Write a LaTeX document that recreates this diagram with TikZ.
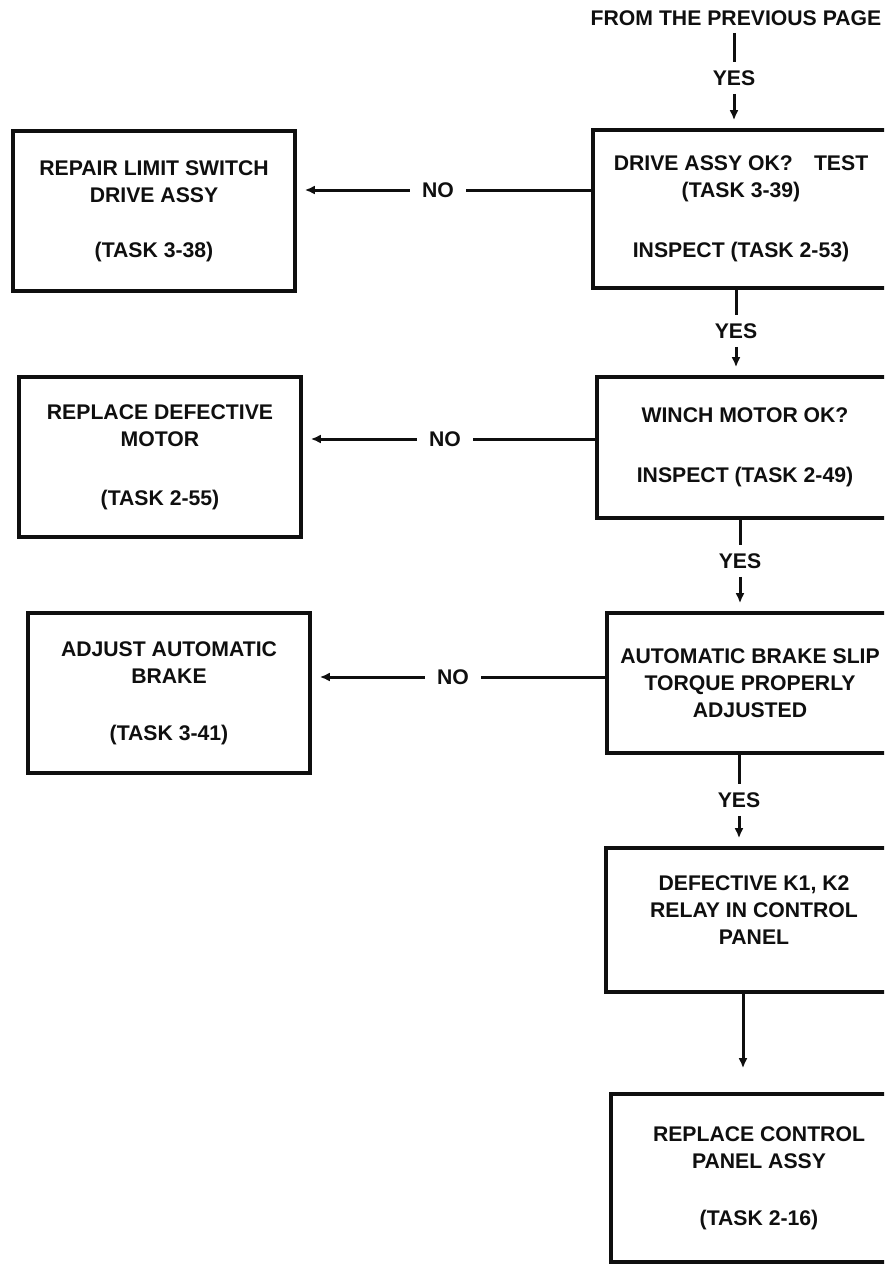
\documentclass[tikz,border=0pt]{standalone}
\usepackage{fontspec}
\setmainfont{Liberation Sans}
\usepackage{tikz}
\usetikzlibrary{
  arrows.meta,
  positioning
}
\definecolor{InkBlack}{RGB}{15, 15, 15}
\newcommand{\chartfont}{\fontsize{10.6}{13.5}\selectfont\bfseries}
\tikzset{
    x=0.5pt, y=-0.5pt,
    box/.style={draw=InkBlack, line width=1.8pt, rectangle, align=center, text=InkBlack, font=\chartfont, inner sep=0pt},
    rbox/.style={box, minimum width=148pt},
    lbox/.style={box, minimum width=141pt, minimum height=80pt},
    lbl/.style={text=InkBlack, font=\chartfont, inner xsep=6pt, inner ysep=4pt},
    link/.style={draw=InkBlack, line width=1.5pt},
    arr/.style={link, -{Latex[length=5pt,width=4.5pt]}, shorten >=4pt}
}

\begin{document}
\begin{tikzpicture}
                \useasboundingbox (0,0) rectangle (884,1264);
                \clip (0,0) rectangle (884,1264);

                % main column
                \node[lbl, inner sep=3.5pt] (header) at (736,18) {FROM THE PREVIOUS PAGE};
                \node[rbox, minimum height=79pt] (drive) at (741,209) {
                    DRIVE ASSY OK?\quad TEST\\
                    (TASK 3-39)\\[16.5pt]
                    INSPECT (TASK 2-53)};
                \node[rbox, minimum height=70.5pt] (winch) at (745,447.5) {
                    WINCH MOTOR OK?\\[16.5pt]
                    INSPECT (TASK 2-49)};
                \node[rbox, minimum height=70pt, minimum width=143pt] (brake) at (750,683) {
                    AUTOMATIC BRAKE SLIP\\
                    TORQUE PROPERLY\\
                    ADJUSTED};
                \node[rbox, minimum height=72pt, text depth=10pt] (relay) at (754,920) {
                    DEFECTIVE K1, K2\\
                    RELAY IN CONTROL\\
                    PANEL};
                \node[rbox, minimum height=84pt] (panel) at (759,1178) {
                    REPLACE CONTROL\\
                    PANEL ASSY\\[15pt]
                    (TASK 2-16)};

                % repair column
                \node[lbox] (repair) at (154,211) {
                    REPAIR LIMIT SWITCH\\
                    DRIVE ASSY\\[14pt]
                    (TASK 3-38)};
                \node[lbox] (motor) at (160,457) {
                    REPLACE DEFECTIVE\\
                    MOTOR\\[16pt]
                    (TASK 2-55)};
                \node[lbox] (adjust) at (169,693) {
                    ADJUST AUTOMATIC\\
                    BRAKE\\[15pt]
                    (TASK 3-41)};

                % answers
                \node[lbl] (yes1) at (734,78) {YES};
                \node[lbl] (yes2) at (736,331) {YES};
                \node[lbl] (yes3) at (740,561) {YES};
                \node[lbl] (yes4) at (739,800) {YES};
                \node[lbl] (no1) at (438,190) {NO};
                \node[lbl] (no2) at (445,439) {NO};
                \node[lbl] (no3) at (453,677) {NO};

                \draw[link] (header.south -| yes1) -- (yes1.north);
                \draw[arr] (yes1.south) -- (yes1.south |- drive.north);
                \draw[link] (drive.south -| yes2) -- (yes2.north);
                \draw[arr] (yes2.south) -- (yes2.south |- winch.north);
                \draw[link] (winch.south -| yes3) -- (yes3.north);
                \draw[arr] (yes3.south) -- (yes3.south |- brake.north);
                \draw[link] (brake.south -| yes4) -- (yes4.north);
                \draw[arr] (yes4.south) -- (yes4.south |- relay.north);
                \draw[arr, shorten >=12pt] ([xshift=-5.5pt]relay.south) -- ([xshift=-5.5pt]relay.south |- panel.north);

                \draw[link] (drive.west |- no1) -- (no1.east);
                \draw[arr] (no1.west) -- (repair.east |- no1);
                \draw[link] (winch.west |- no2) -- (no2.east);
                \draw[arr] (no2.west) -- (motor.east |- no2);
                \draw[link] (brake.west |- no3) -- (no3.east);
                \draw[arr] (no3.west) -- (adjust.east |- no3);
            \end{tikzpicture}
\end{document}
